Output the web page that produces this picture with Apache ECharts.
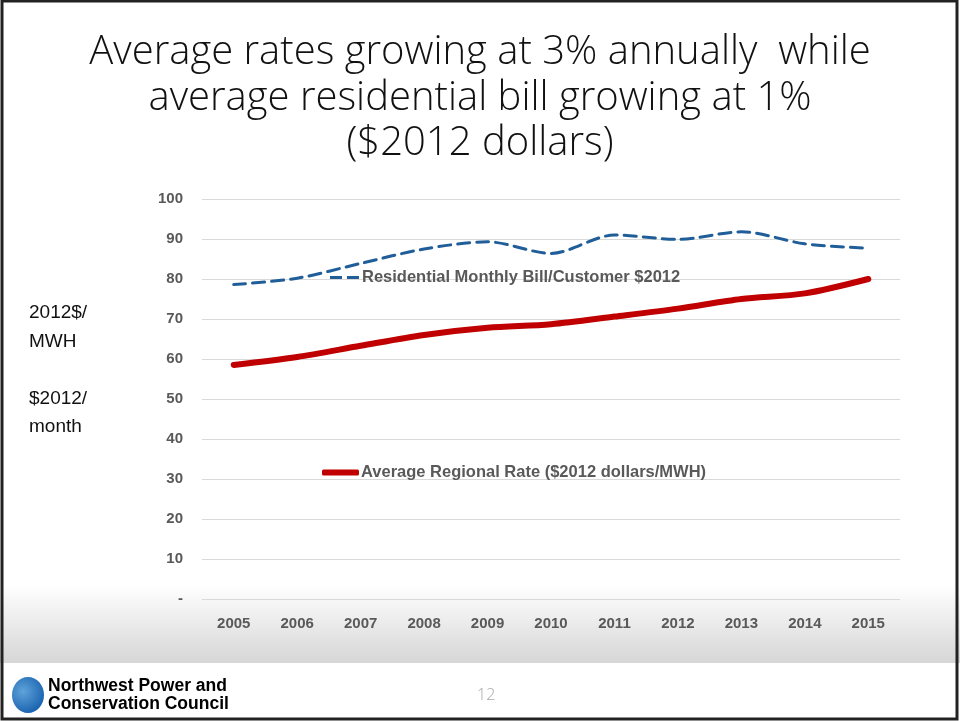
<!DOCTYPE html>
<html>
<head>
<meta charset="utf-8">
<script src="https://cdn.jsdelivr.net/npm/echarts@6/dist/echarts.min.js"></script>
<style>
  html, body { margin: 0; padding: 0; background: #fff; }
  #chart { width: 960px; height: 721px; }
</style>
</head>
<body>
<div id="chart"></div>
<script>
// Years on the horizontal axis
const years = ['2005', '2006', '2007', '2008', '2009', '2010', '2011', '2012', '2013', '2014', '2015'];

// Residential monthly bill per customer, $2012
const billValues = [78.6, 80.2, 83.9, 87.5, 89.3, 86.4, 91.0, 89.9, 91.8, 88.8, 87.7];

// Average regional rate, $2012 dollars per MWh
const rateValues = [58.5, 60.5, 63.3, 66.0, 67.8, 68.7, 70.6, 72.6, 75.0, 76.4, 80.0];

const billName = 'Residential Monthly Bill/Customer $2012';
const rateName = 'Average Regional Rate ($2012 dollars/MWH)';

const titleLines = [
  'Average rates growing at 3% annually  while',
  'average residential bill growing at 1%',
  '($2012 dollars)'
];

const chart = echarts.init(document.getElementById('chart'), null, { renderer: 'canvas' });

const labelFont = "'Liberation Sans Narrow', 'Liberation Sans', sans-serif";

chart.setOption({
  backgroundColor: '#ffffff',
  animation: false,
  title: {
    text: titleLines.join('\n'),
    left: 'center',
    top: 25,
    textStyle: {
      fontFamily: "'Open Sans', sans-serif",
      fontWeight: 300,
      fontSize: 40,
      lineHeight: 45.5,
      color: '#111111'
    }
  },
  legend: [
    {
      data: [billName],
      left: 330,
      top: 269,
      padding: 0,
      icon: 'path://M0,0h12v3h-12z M17,0h12v3h-12z',
      itemWidth: 29,
      itemHeight: 3,
      itemGap: 0,
      textStyle: { fontFamily: labelFont, fontWeight: 'bold', fontSize: 16.5, color: '#595959', padding: [0, 0, 0, -2] }
    },
    {
      data: [rateName],
      left: 322,
      top: 464,
      padding: 0,
      icon: 'roundRect',
      itemWidth: 37,
      itemHeight: 6,
      itemGap: 0,
      textStyle: { fontFamily: labelFont, fontWeight: 'bold', fontSize: 16.5, color: '#595959', padding: [0, 0, 0, -3] }
    }
  ],
  grid: { left: 202, right: 60, top: 199, bottom: 122 },
  xAxis: {
    type: 'category',
    data: years,
    boundaryGap: true,
    axisLine: { show: false },
    axisTick: { show: false },
    axisLabel: { margin: 17, fontFamily: labelFont, fontWeight: 'bold', fontSize: 15, color: '#595959' }
  },
  yAxis: {
    type: 'value',
    min: 0,
    max: 100,
    interval: 10,
    axisLine: { show: false },
    axisTick: { show: false },
    splitLine: { lineStyle: { color: '#d9d9d9', width: 1 } },
    axisLabel: {
      margin: 19,
      fontFamily: labelFont,
      fontWeight: 'bold',
      fontSize: 15,
      color: '#595959',
      formatter: v => (v === 0 ? '-' : String(v))
    }
  },
  series: [
    {
      name: billName,
      type: 'line',
      data: billValues,
      smooth: 0.3,
      symbol: 'none',
      lineStyle: { color: '#1f5e99', width: 3, type: [12, 7], cap: 'round' },
      itemStyle: { color: '#1f5e99' },
      z: 3
    },
    {
      name: rateName,
      type: 'line',
      data: rateValues,
      smooth: 0.3,
      symbol: 'none',
      lineStyle: { color: '#c00000', width: 6, cap: 'round' },
      itemStyle: { color: '#c00000' },
      z: 4
    }
  ],
  graphic: [
    // shaded band behind the category labels
    {
      type: 'rect',
      silent: true,
      z: -10,
      shape: { x: 0, y: 585, width: 960, height: 78 },
      style: {
        fill: {
          type: 'linear', x: 0, y: 0, x2: 0, y2: 1,
          colorStops: [
            { offset: 0, color: '#ffffff' },
            { offset: 1, color: '#d6d6d6' }
          ]
        }
      }
    },
    // slide frame
    {
      type: 'rect',
      silent: true,
      z: 100,
      shape: { x: 2, y: 1, width: 955, height: 718 },
      style: { fill: null, stroke: '#222222', lineWidth: 3 }
    },
    // side unit labels
    {
      type: 'text',
      left: 29,
      top: 299,
      style: {
        text: '2012$/\nMWH\n\n$2012/\nmonth',
        fontFamily: "'Liberation Sans', sans-serif",
        fontSize: 19,
        lineHeight: 28.5,
        fill: '#111111'
      }
    },
    // council logo mark
    {
      type: 'ellipse',
      silent: true,
      shape: { cx: 28, cy: 695, rx: 16, ry: 18 },
      style: {
        fill: {
          type: 'radial', x: 0.35, y: 0.4, r: 0.7,
          colorStops: [
            { offset: 0, color: '#5fa3d9' },
            { offset: 1, color: '#1a63b0' }
          ]
        }
      }
    },
    {
      type: 'text',
      left: 48,
      top: 677,
      style: {
        text: 'Northwest Power and\nConservation Council',
        fontFamily: labelFont,
        fontWeight: 900,
        fontSize: 17.5,
        lineHeight: 18,
        fill: '#000000'
      }
    },
    // page number
    {
      type: 'text',
      left: 477,
      top: 687,
      style: {
        text: '12',
        fontFamily: "'Open Sans', sans-serif",
        fontWeight: 300,
        fontSize: 16,
        fill: '#a6a6a6'
      }
    }
  ]
});
</script>
</body>
</html>
